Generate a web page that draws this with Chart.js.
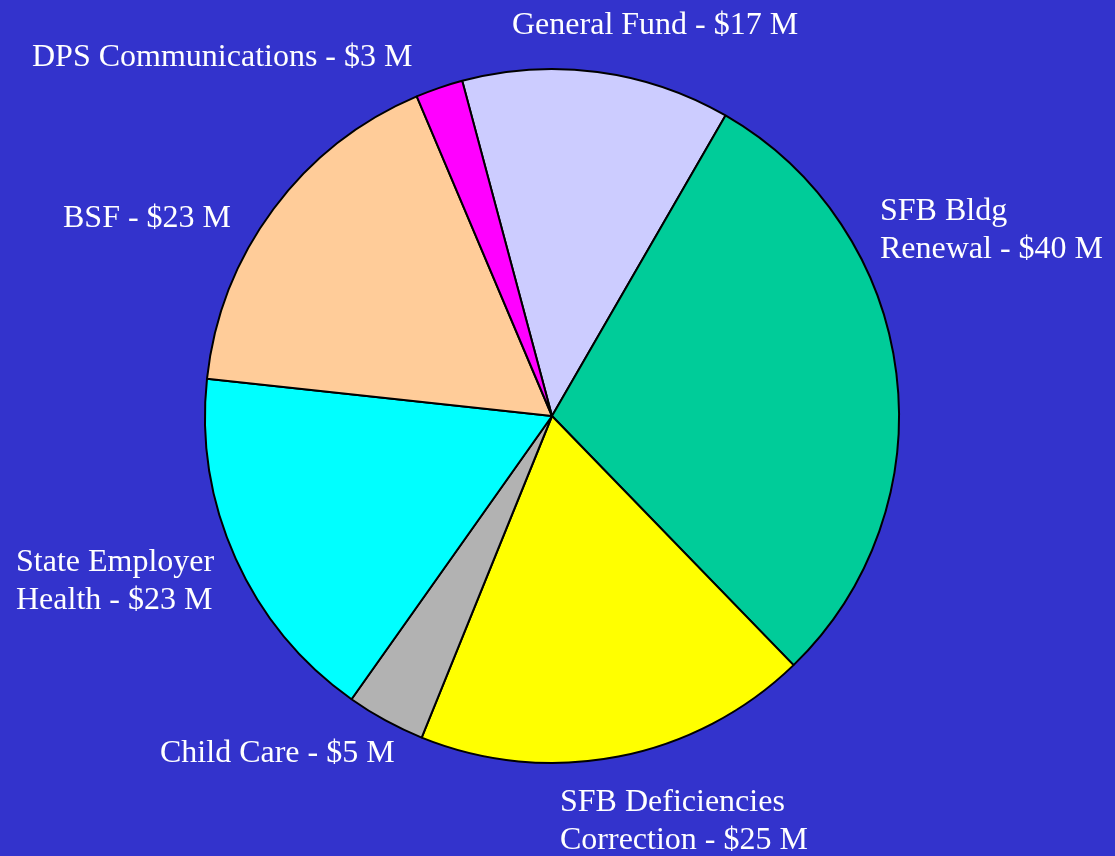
<!DOCTYPE html>
<html>
<head>
<meta charset="utf-8">
<script src="https://cdn.jsdelivr.net/npm/chart.js@4"></script>
<style>
  html, body { margin: 0; padding: 0; background: #3333cc; }
  #wrap { width: 1115px; height: 856px; }
</style>
</head>
<body>
<div id="wrap"><canvas id="pie"></canvas></div>
<script>
// data, clockwise from the top
const categories = [
  ["General Fund - $17 M"],
  ["SFB Bldg", "Renewal - $40 M"],
  ["SFB Deficiencies", "Correction - $25 M"],
  ["Child Care - $5 M"],
  ["State Employer", "Health - $23 M"],
  ["BSF - $23 M"],
  ["DPS Communications - $3 M"]
];
const amounts = [17, 40, 25, 5, 23, 23, 3];
const sliceColors = ["#ccccff", "#00cc99", "#ffff00", "#b2b2b2", "#00ffff", "#ffcc99", "#ff00ff"];

// where each label sits, relative to the pie centre (left edge, first baseline)
const labelSpots = [
  [-40, -382],
  [328, -196],
  [8, 395],
  [-392, 346],
  [-536, 155],
  [-489, -189],
  [-520, -350]
];

const labelPlugin = {
  id: "sliceLabels",
  afterDraw(chart) {
    const arc = chart.getDatasetMeta(0).data[0];
    if (!arc) return;
    const ctx = chart.ctx;
    ctx.save();
    ctx.fillStyle = "#ffffff";
    ctx.font = "32px 'Liberation Serif', 'Times New Roman', serif";
    ctx.textAlign = "left";
    ctx.textBaseline = "alphabetic";
    categories.forEach((lines, i) => {
      const x = arc.x + labelSpots[i][0];
      const y = arc.y + labelSpots[i][1];
      lines.forEach((line, j) => ctx.fillText(line, x, y + j * 38));
    });
    ctx.restore();
  }
};

new Chart(document.getElementById("pie"), {
  type: "pie",
  data: {
    labels: categories.map((l) => l.join(" ")),
    datasets: [{
      data: amounts,
      backgroundColor: sliceColors,
      borderColor: "#000000",
      borderWidth: 2
    }]
  },
  options: {
    responsive: true,
    maintainAspectRatio: false,
    animation: false,
    rotation: -15,
    radius: 347,
    layout: { padding: { left: 0, right: 11, top: 0, bottom: 24 } },
    plugins: {
      legend: { display: false },
      tooltip: { enabled: false }
    }
  },
  plugins: [labelPlugin]
});
</script>
</body>
</html>
